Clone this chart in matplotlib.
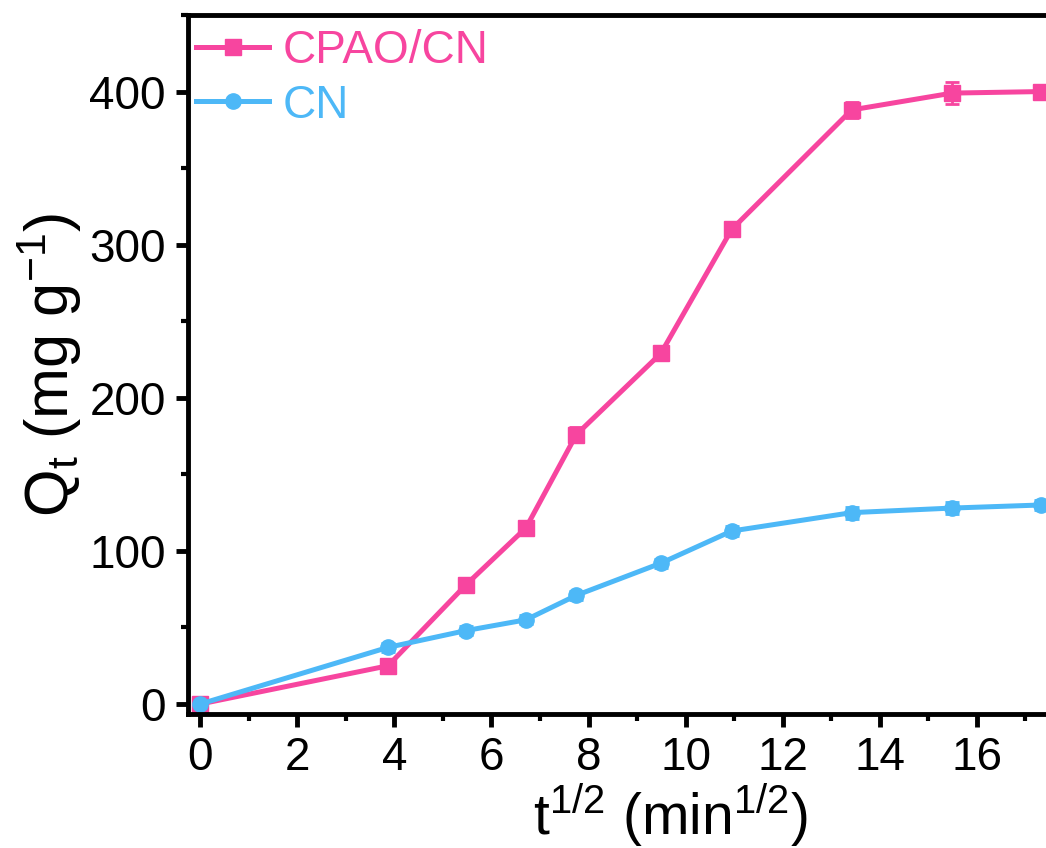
import numpy as np
import matplotlib.pyplot as plt
from matplotlib.ticker import MultipleLocator, FixedLocator

plt.rcParams['font.family'] = ['Liberation Sans', 'DejaVu Sans']
plt.rcParams['mathtext.fontset'] = 'custom'
plt.rcParams['mathtext.rm'] = 'Liberation Sans'
plt.rcParams['mathtext.it'] = 'Liberation Sans'

# data: t^(1/2) in min^(1/2), Qt in mg/g
t_sqrt = [0, 3.87, 5.48, 6.71, 7.75, 9.49, 10.95, 13.42, 15.49, 17.32]
q_cpao = [0, 25, 78, 115, 176, 229, 310, 388, 399, 400]
err_cpao = [3, 3, 4, 4, 5, 3, 4, 5, 7, 4]
q_cn = [0, 37, 48, 55, 71, 92, 113, 125, 128, 130]
err_cn = [3, 3, 3, 3, 3, 3, 3, 4, 4, 3]

pink = '#F7459F'
blue = '#4DB8F7'

fig = plt.figure(figsize=(10.46, 8.48), dpi=100)
ax = fig.add_axes([188/1046, 134/848, 886/1046, 699/848])

e1 = ax.errorbar(t_sqrt, q_cpao, yerr=err_cpao, color=pink, marker='s', markersize=12,
                 linewidth=3.6, capsize=5, capthick=2, elinewidth=2, label='CPAO/CN')
e2 = ax.errorbar(t_sqrt, q_cn, yerr=err_cn, color=blue, marker='o', markersize=11,
                 linewidth=3.6, capsize=5, capthick=2, elinewidth=2, label='CN')

ax.set_xlim(-0.25, 18)
ax.set_ylim(-6.5, 450)
ax.xaxis.set_major_locator(FixedLocator(np.arange(0, 17, 2)))
ax.xaxis.set_minor_locator(FixedLocator(np.arange(1, 18, 2)))
ax.yaxis.set_major_locator(MultipleLocator(100))
ax.yaxis.set_minor_locator(MultipleLocator(50))

for s in ax.spines.values():
    s.set_linewidth(3.5)
ax.tick_params(which='major', direction='out', length=9, width=3.5, labelsize=33, pad=7)
ax.tick_params(which='minor', direction='out', length=5, width=3)

ax.set_xlabel(r'$\mathregular{t^{1/2}\ (min^{1/2})}$', fontsize=41)
ax.xaxis.set_label_coords(0.544, -0.097)
ax.set_ylabel(r'$\mathregular{Q_t\ (mg\ g^{-1})}$', fontsize=44, labelpad=4)

leg = ax.legend(handles=[e1[0], e2[0]], labels=['CPAO/CN', 'CN'], loc='upper left',
                fontsize=33, frameon=False, handlelength=1.6, handletextpad=0.28,
                labelspacing=0.23, borderpad=0, borderaxespad=0,
                bbox_to_anchor=(8/886, 0.98))
for txt, c in zip(leg.get_texts(), [pink, blue]):
    txt.set_color(c)

fig.savefig('out.png', dpi=100)
